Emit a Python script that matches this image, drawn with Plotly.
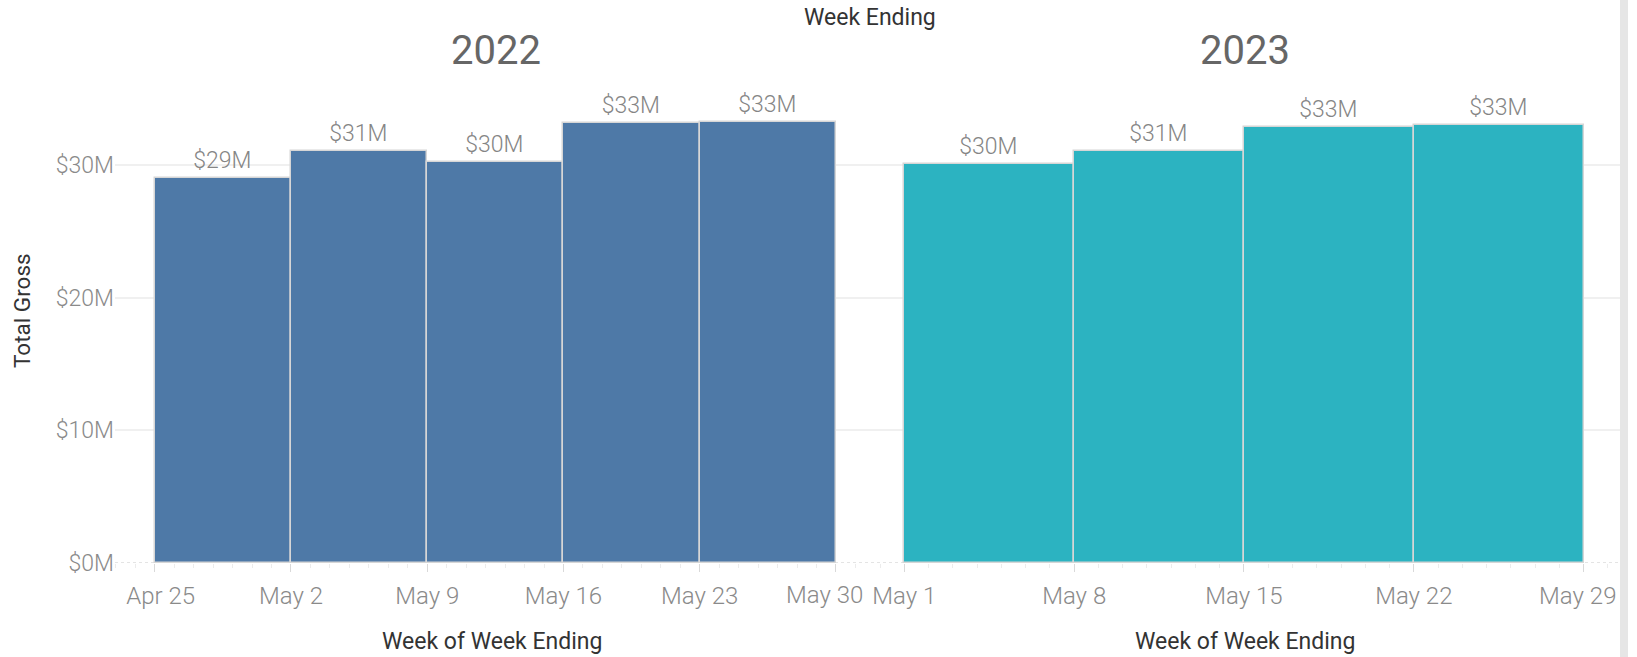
import plotly.graph_objects as go

# ---- data ----
weeks_2022 = ["2022-04-25", "2022-05-02", "2022-05-09", "2022-05-16", "2022-05-23"]
gross_2022 = [29.0, 31.05, 30.2, 33.15, 33.25]  # $M
weeks_2023 = ["2023-05-01", "2023-05-08", "2023-05-15", "2023-05-22"]
gross_2023 = [30.1, 31.05, 32.85, 33.0]  # $M

ticks_2022 = ["2022-04-25", "2022-05-02", "2022-05-09", "2022-05-16", "2022-05-23", "2022-05-30"]
ticklabels_2022 = ["Apr 25", "May 2", "May 9", "May 16", "May 23", "May 30"]
ticks_2023 = ["2023-05-01", "2023-05-08", "2023-05-15", "2023-05-22", "2023-05-29"]
ticklabels_2023 = ["May 1", "May 8", "May 15", "May 22", "May 29"]
ytick_vals = [0, 10, 20, 30]
ytick_text = ["$0M", "$10M", "$20M", "$30M"]

W, H = 1637, 657
FONT = "Roboto, sans-serif"
WEEK_MS = 7 * 86400000
NB = "\u00a0"
TICKFONT = dict(family=FONT, size=24, color="#8a8a8a", weight=300)

def px(v):
    return v / W

def py(v):
    return 1 - v / H

# edge labels nudged inward like the reference
ticktext_2022 = list(ticklabels_2022)
ticktext_2022[0] = NB * 2 + ticktext_2022[0]
last_label_2022 = ticktext_2022[-1]
ticktext_2022[-1] = ""          # drawn as an annotation, shifted left
ticktext_2023 = list(ticklabels_2023)
ticktext_2023[-1] = ticktext_2023[-1] + NB * 2

fig = go.Figure()

fig.add_trace(go.Bar(
    x=weeks_2022, y=gross_2022, xaxis="x", yaxis="y",
    width=[WEEK_MS] * len(weeks_2022), offset=0,
    marker=dict(color="#4e79a7", line=dict(color="#d6d6d6", width=1.5)),
    text=[f"${round(v)}M" for v in gross_2022], textposition="outside",
    textfont=dict(family=FONT, size=23, color="#858585", weight=300), cliponaxis=False,
    showlegend=False,
))
fig.add_trace(go.Bar(
    x=weeks_2023, y=gross_2023, xaxis="x2", yaxis="y2",
    width=[WEEK_MS] * len(weeks_2023), offset=0,
    marker=dict(color="#2cb3c1", line=dict(color="#d6d6d6", width=1.5)),
    text=[f"${round(v)}M" for v in gross_2023], textposition="outside",
    textfont=dict(family=FONT, size=23, color="#858585", weight=300), cliponaxis=False,
    showlegend=False,
))

y_top = (563 - 80) / 13.27
ydom = [py(563), py(80)]
xdom1 = [px(115), px(870)]
xdom2 = [px(870), px(1620)]

common_x = dict(
    type="date", showgrid=False, zeroline=False, showline=False, automargin=False,
    ticks="outside", ticklen=8, tickcolor="#d9d9d9", tickwidth=1,
    tickfont=TICKFONT,
    ticklabelstandoff=3,
    minor=dict(ticks="outside", ticklen=4, tickcolor="#ececec", dtick=86400000, showgrid=False),
)
common_y = dict(
    range=[0, y_top], domain=ydom, showgrid=True, gridcolor="#f0f0f0", gridwidth=1.5,
    zeroline=False, showline=False, tickvals=ytick_vals, automargin=False,
)

fig.update_layout(
    width=W, height=H,
    margin=dict(l=0, r=0, t=0, b=0, autoexpand=False),
    paper_bgcolor="white", plot_bgcolor="white",
    bargap=0,
    xaxis=dict(common_x, domain=xdom1, anchor="y",
               range=["2022-04-22 23:00", "2022-05-31 18:00"],
               tickvals=ticks_2022, ticktext=ticktext_2022),
    xaxis2=dict(common_x, domain=xdom2, anchor="y2",
                range=["2023-04-29 14:00", "2023-05-30 12:00"],
                tickvals=ticks_2023, ticktext=ticktext_2023),
    yaxis=dict(common_y, anchor="x", ticktext=ytick_text,
               tickfont=dict(family=FONT, size=23, color="#8a8a8a", weight=300)),
    yaxis2=dict(common_y, anchor="x2", matches="y", showticklabels=False),
)

# dotted baseline
fig.add_shape(type="line", xref="paper", yref="y", x0=px(115), x1=px(1620), y0=0, y1=0,
              line=dict(color="#c8c8c8", width=1, dash="dot"), layer="below")
# scrollbar strip at right
fig.add_shape(type="rect", xref="paper", yref="paper", x0=px(1620), x1=px(1628), y0=0, y1=1,
              fillcolor="#e6e6e6", line=dict(width=0))

# last 2022 tick label, placed at its tick but nudged left (as in the reference)
fig.add_annotation(xref="x", yref="paper", x=ticks_2022[-1], y=py(595), xshift=-11,
                   text=last_label_2022, showarrow=False, xanchor="center", yanchor="middle",
                   font=TICKFONT)

annotations = [
    dict(text="Week Ending", x=px(870), y=py(17), font=dict(family=FONT, size=23, color="#333333")),
    dict(text="2022", x=px(496), y=py(50), font=dict(family=FONT, size=40, color="#666666")),
    dict(text="2023", x=px(1245), y=py(50), font=dict(family=FONT, size=40, color="#666666")),
    dict(text="Week of Week Ending", x=px(492), y=py(641), font=dict(family=FONT, size=23, color="#333333")),
    dict(text="Week of Week Ending", x=px(1245), y=py(641), font=dict(family=FONT, size=23, color="#333333")),
    dict(text="Total Gross", x=px(22), y=py(311), textangle=-90, font=dict(family=FONT, size=22.5, color="#333333")),
]
for a in annotations:
    fig.add_annotation(xref="paper", yref="paper", showarrow=False,
                       xanchor="center", yanchor="middle", **a)

fig.write_html("out.html", config={"displayModeBar": False},
               post_script="document.body.style.margin='0';document.body.style.padding='0';")
